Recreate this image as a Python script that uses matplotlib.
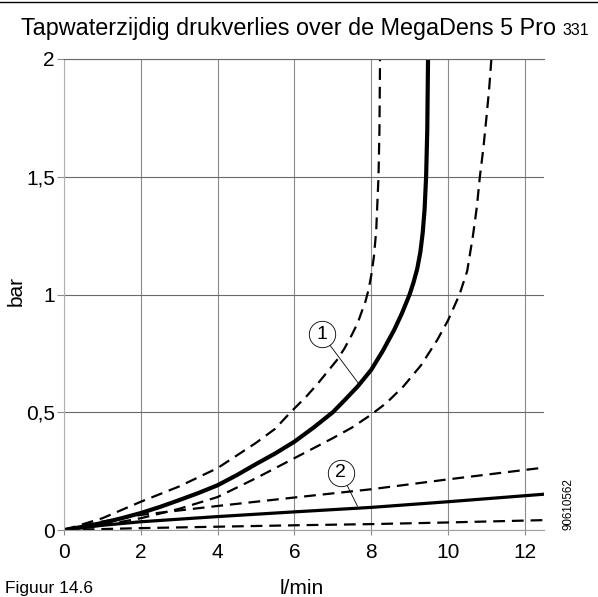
import matplotlib
matplotlib.use('Agg')
import matplotlib.pyplot as plt
from matplotlib.lines import Line2D

plt.rcParams['font.family'] = ['Liberation Sans', 'DejaVu Sans']

# curve 1 (solid) with its upper/lower tolerance band (dashed)
sol1_x = [0, 0.5, 1, 1.5, 2, 2.5, 3, 3.5, 4, 4.5, 5, 5.5, 6, 6.5, 7, 7.3, 7.65, 8,
          8.3, 8.6, 8.8, 9.0, 9.1, 9.2, 9.28, 9.34, 9.39, 9.43, 9.46, 9.48]
sol1_y = [0, 0.014, 0.03, 0.05, 0.072, 0.098, 0.127, 0.157, 0.19, 0.233, 0.28, 0.325,
          0.375, 0.435, 0.5, 0.55, 0.61, 0.68, 0.76, 0.85, 0.92, 1.0, 1.05, 1.11, 1.18,
          1.26, 1.36, 1.5, 1.7, 2.0]
up1_x = [0, 1, 2, 3, 4, 5, 5.5, 5.9, 6.3, 6.6, 6.9, 7.1, 7.3, 7.5, 7.65, 7.76, 7.85,
         7.93, 8.0, 8.07, 8.13, 8.19, 8.215, 8.23]
up1_y = [0, 0.05, 0.12, 0.185, 0.263, 0.37, 0.43, 0.5, 0.565, 0.62, 0.68, 0.72, 0.77,
         0.83, 0.88, 0.93, 0.97, 1.02, 1.08, 1.16, 1.27, 1.5, 1.7, 2.0]
lo1_x = [0, 1, 2, 3, 4, 5, 6, 7, 7.5, 8, 8.4, 8.84, 9.3, 9.72, 10.0, 10.3, 10.5, 10.65,
         10.75, 10.83, 10.92, 11.0, 11.07, 11.13]
lo1_y = [0, 0.02, 0.05, 0.09, 0.14, 0.22, 0.305, 0.39, 0.435, 0.49, 0.54, 0.61, 0.7,
         0.807, 0.89, 1.0, 1.1, 1.25, 1.37, 1.5, 1.62, 1.75, 1.87, 2.0]

# curve 2 (solid) with band
x2 = [0, 1, 2, 4, 6, 8, 10, 12.5]
sol2_y = [0, 0.02, 0.035, 0.057, 0.077, 0.096, 0.12, 0.152]
up2_y = [0, 0.036, 0.064, 0.102, 0.138, 0.173, 0.215, 0.265]
lo2_y = [0, 0.004, 0.008, 0.014, 0.02, 0.025, 0.032, 0.042]

xticks = [0, 2, 4, 6, 8, 10, 12]
yticks = [0, 0.5, 1, 1.5, 2]
ytick_labels = ['0', '0,5', '1', '1,5', '2']

W, H = 598, 597
fig = plt.figure(figsize=(W / 100, H / 100), dpi=100)
ax = fig.add_axes([64 / W, 1 - 530 / H, 480 / W, 471 / H])

dash = dict(color='black', lw=1.6, dashes=(5.3, 3.1))
ax.plot(up1_x, up1_y, **dash)
ax.plot(lo1_x, lo1_y, **dash)
ax.plot(x2, up2_y, **dash)
ax.plot(x2, lo2_y, **dash)
ax.plot(sol1_x, sol1_y, color='black', lw=3.0, solid_capstyle='butt')
ax.plot(x2, sol2_y, color='black', lw=2.3, solid_capstyle='butt')

ax.set_xlim(0, 12.5)
ax.set_ylim(0, 2)
ax.set_xticks(xticks)
ax.set_yticks(yticks)
ax.set_yticklabels(ytick_labels)
ax.tick_params(axis='both', labelsize=15, colors='#8c8c8c', labelcolor='black')
ax.tick_params(axis='x', length=3.6, pad=6)
ax.tick_params(axis='y', length=5, pad=1.5)

ax.grid(True, axis='x', color='#8c8c8c', lw=0.8)
ax.grid(True, axis='y', color='#6a6a6a', lw=0.8)
ax.set_axisbelow(True)
ax.spines['right'].set_visible(False)
ax.spines['top'].set_color('#6a6a6a')
ax.spines['left'].set_color('#b0b0b0')
ax.spines['bottom'].set_color('#a0a0a0')
for s in ['top', 'left', 'bottom']:
    ax.spines[s].set_linewidth(0.8)

# numbered callouts
for num, (cx, cy), (ex, ey) in [('1', (6.71, 0.832), (7.68, 0.62)),
                                  ('2', (7.21, 0.243), (7.64, 0.102))]:
    ax.plot([cx, ex], [cy, ey], color='black', lw=0.6, zorder=4)
    ax.plot([cx], [cy], marker='o', ms=19, mfc='white', mec='black', mew=0.6, zorder=5)
    ax.text(cx, cy, num, fontsize=14, ha='center', va='center', zorder=6)

# texts around the plot
fig.add_artist(Line2D([0, 1], [1 - 2 / H, 1 - 2 / H], color='black', lw=1))
title = fig.text(21 / W, 1 - 35 / H, 'Tapwaterzijdig drukverlies over de MegaDens 5 Pro ',
                 fontsize=16.8, va='baseline', ha='left')
fig.canvas.draw()
bb = title.get_window_extent()
fig.text(bb.x1 / W, 1 - 35 / H, '331', fontsize=11.5, va='baseline', ha='left')

fig.text(16.5 / W, 1 - 291 / H, 'bar', fontsize=15, rotation=90, ha='center', va='center')
fig.text(302 / W, 1 - 594 / H, 'l/min', fontsize=15, ha='center', va='baseline')
fig.text(5 / W, 1 - 593 / H, 'Figuur 14.6', fontsize=12.5, ha='left', va='baseline')
fig.text(569 / W, 1 - 530 / H, '90610562', fontsize=8.4, rotation=90, ha='center', va='bottom')

fig.savefig('out.png', dpi=100)
